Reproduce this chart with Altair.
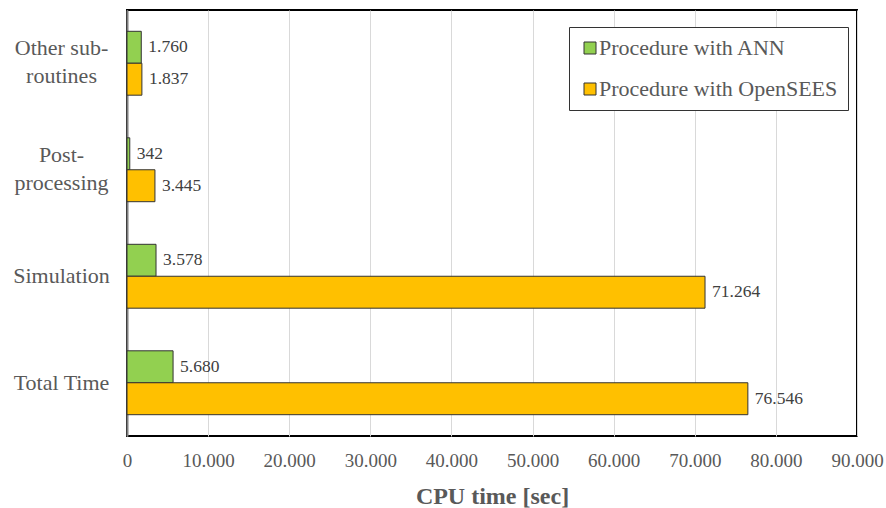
import altair as alt
import pandas as pd

# Task categories ("|" marks a line break in the axis label)
categories = ["Other sub-|routines", "Post-|processing", "Simulation", "Total Time"]
series_names = ["Procedure with ANN", "Procedure with OpenSEES"]
ann_times = [1760, 342, 3578, 5680]
opensees_times = [1837, 3445, 71264, 76546]
x_ticks = [0, 10000, 20000, 30000, 40000, 50000, 60000, 70000, 80000, 90000]

rows = []
for cat, a, o in zip(categories, ann_times, opensees_times):
    rows.append({"task": cat, "series": series_names[0], "time": a})
    rows.append({"task": cat, "series": series_names[1], "time": o})
df = pd.DataFrame(rows)

FONT = "Liberation Serif"
GREY = "#595959"

y_enc = alt.Y(
    "task:N",
    sort=categories,
    scale=alt.Scale(paddingInner=0.4, paddingOuter=0.2),
    axis=alt.Axis(
        title=None,
        labelExpr="split(datum.label, '|')",
        labelFont=FONT,
        labelFontSize=22,
        labelColor=GREY,
        labelAlign="center",
        labelBaseline="middle",
        labelLineHeight=28,
        labelPadding=66,
        labelLimit=300,
        # two-line labels are lifted so the block sits centred on the band
        labelOffset={
            "condition": {"test": "indexof(datum.label, '|') >= 0", "value": -15},
            "value": 0,
        },
        ticks=False,
        tickSize=0,
        domainColor="#7f7f7f",
        domainWidth=2,
        grid=False,
    ),
)

x_enc = alt.X(
    "time:Q",
    scale=alt.Scale(domain=[0, 90000], nice=False),
    axis=alt.Axis(
        title="CPU time [sec]",
        values=x_ticks,
        labelExpr="replace(format(datum.value, ','), ',', '.')",
        labelFont=FONT,
        labelFontSize=19,
        labelColor=GREY,
        labelPadding=15,
        labelFlush=False,
        labelOverlap=False,
        ticks=False,
        domain=False,
        grid=True,
        gridColor="#d9d9d9",
        gridWidth=1,
        titleFont=FONT,
        titleFontSize=24,
        titleFontWeight="bold",
        titleColor=GREY,
        titlePadding=14,
    ),
)

color_enc = alt.Color(
    "series:N",
    sort=series_names,
    scale=alt.Scale(domain=series_names, range=["#92d050", "#ffc000"]),
    legend=alt.Legend(
        title=None,
        orient="none",
        legendX=442,
        legendY=17,
        symbolType="square",
        symbolSize=144,
        symbolStrokeColor="#333333",
        symbolStrokeWidth=1,
        labelFont=FONT,
        labelFontSize=22,
        labelColor=GREY,
        # keep the labels close to the swatches
        labelOffset={"expr": "-2"},
        labelLimit=400,
        rowPadding=19,
        padding=10,
        strokeColor="#333333",
        fillColor="white",
    ),
)

base = alt.Chart(df).encode(
    y=y_enc,
    yOffset=alt.YOffset("series:N", sort=series_names),
)

bars = base.mark_bar(stroke="#333333", strokeWidth=1).encode(x=x_enc, color=color_enc)

labels = base.mark_text(
    align="left", baseline="middle", dx=7, font=FONT, fontSize=17.5, color="#404040"
).transform_calculate(
    lbl="replace(format(datum.time, ','), ',', '.')"
).encode(x="time:Q", text="lbl:N")

chart = (
    alt.layer(bars, labels)
    .properties(
        width=730,
        height=426,
        autosize="none",
        padding={"left": 127, "top": 10, "right": 29, "bottom": 72},
    )
    .configure(background="white")
    .configure_view(stroke="#000000", strokeWidth=2)
)

chart.save("out.html", embed_options={"renderer": "svg", "actions": False})
